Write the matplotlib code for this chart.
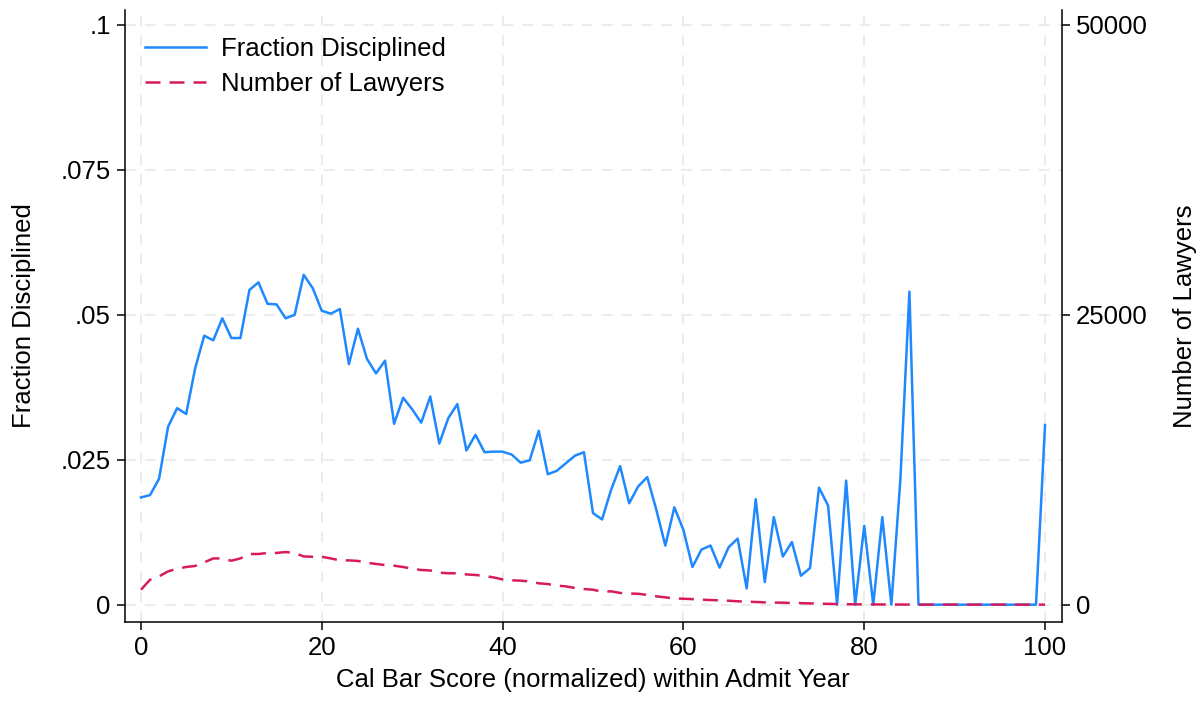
import numpy as np
import matplotlib
matplotlib.use("Agg")
import matplotlib.pyplot as plt
from matplotlib.ticker import FuncFormatter

plt.rcParams["font.family"] = ["Liberation Sans", "DejaVu Sans"]

# Cal bar score percentile (0..100)
score = np.arange(0, 101)

frac_disciplined = [
    .0185, .0189, .0217, .0307, .0339, .0329, .0408, .0464, .0456, .0494,
    .0460, .0460, .0543, .0556, .0519, .0518, .0494, .0500, .0569, .0546,
    .0507, .0502, .0510, .0415, .0476, .0424, .0399, .0421, .0312, .0357,
    .0337, .0314, .0359, .0278, .0322, .0346, .0266, .0293, .0263, .0264,
    .0264, .0259, .0245, .0249, .0300, .0225, .0231, .0244, .0257, .0263,
    .0158, .0147, .0198, .0239, .0175, .0204, .0220, .0164, .0102, .0168,
    .0129, .0065, .0095, .0102, .0064, .0099, .0114, .0028, .0182, .0039,
    .0151, .0083, .0108, .0050, .0063, .0202, .0171, 0.0, .0214, 0.0,
    .0136, 0.0, .0151, 0.0, .0216, .0540, 0.0, 0.0, 0.0, 0.0,
    0.0, 0.0, 0.0, 0.0, 0.0, 0.0, 0.0, 0.0, 0.0, 0.0,
    .0310,
]

n_lawyers = [
    1290, 2150, 2440, 2870, 3100, 3250, 3340, 3650, 3990, 3990,
    3790, 3990, 4370, 4370, 4460, 4460, 4540, 4460, 4160, 4130,
    4130, 3990, 3820, 3820, 3770, 3620, 3510, 3420, 3360, 3250,
    3100, 2990, 2950, 2760, 2710, 2710, 2610, 2560, 2480, 2350,
    2180, 2100, 2070, 2000, 1840, 1780, 1640, 1580, 1440, 1350,
    1290, 1120, 1150, 1010, 960, 940, 840, 720, 630, 540,
    510, 480, 430, 400, 370, 340, 290, 260, 230, 200,
    180, 170, 150, 130, 110, 90, 70, 50, 40, 30,
    25, 20, 15, 12, 10, 8, 6, 5, 5, 5,
    5, 4, 4, 4, 4, 3, 3, 3, 3, 3,
    3,
]

blue = "#1e88ff"
red = "#d81b60"
grid_col = "#ebebeb"
fs = 18.5

fig = plt.figure(figsize=(12, 7.03), dpi=100)
ax = fig.add_axes([0.1039, 0.1157, 0.7809, 0.8701])
ax2 = ax.twinx()

l1, = ax.plot(score, frac_disciplined, color=blue, lw=1.8, label="Fraction Disciplined")
l2, = ax2.plot(score, n_lawyers, color=red, lw=1.8, ls=(0, (6, 3.6)), label="Number of Lawyers")

ax.set_xlim(-1.8, 101.85)
ax.set_ylim(-0.00293, 0.10259)
ax2.set_ylim(-1466, 51293)

ax.set_xticks([0, 20, 40, 60, 80, 100])
ax.set_yticks([0, .025, .05, .075, .1])
ax2.set_yticks([0, 25000, 50000])

def fmt_frac(v, pos):
    if abs(v) < 1e-12:
        return "0"
    s = f"{v:.3f}".rstrip("0")
    return s.lstrip("0")

ax.yaxis.set_major_formatter(FuncFormatter(fmt_frac))

ax.grid(True, color=grid_col, ls=(0, (6, 5)), lw=1.3)
ax.set_axisbelow(True)

for a in (ax, ax2):
    a.spines["top"].set_visible(False)
    a.tick_params(labelsize=fs, length=6, width=1.1, direction="out", pad=4)
ax.spines["right"].set_visible(False)
ax2.spines["left"].set_visible(False)
ax2.spines["bottom"].set_visible(False)
for s in ("left", "bottom"):
    ax.spines[s].set_linewidth(1.1)
ax2.spines["right"].set_linewidth(1.1)

ax.set_xlabel("Cal Bar Score (normalized) within Admit Year", fontsize=fs, labelpad=6)
ax.set_ylabel("Fraction Disciplined", fontsize=fs, labelpad=18)
ax2.set_ylabel("Number of Lawyers", fontsize=fs, labelpad=18)

ax.legend(handles=[l1, l2], loc="upper left", bbox_to_anchor=(0.0, 0.99),
          frameon=False, fontsize=fs, handlelength=2.35, handletextpad=0.6,
          labelspacing=0.45, borderaxespad=0.4)

fig.savefig("out.png", dpi=100)
